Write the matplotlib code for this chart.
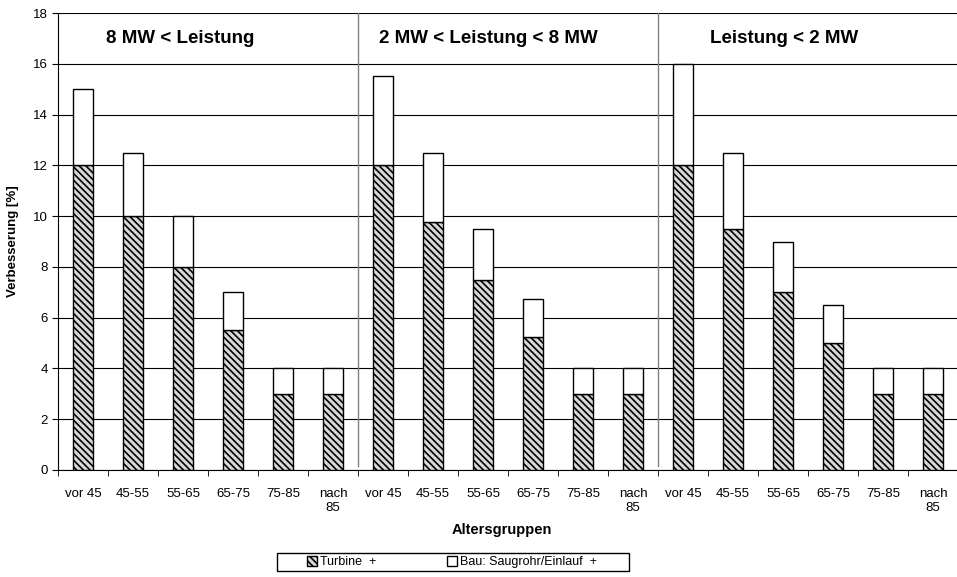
import matplotlib
matplotlib.use("Agg")
import matplotlib.pyplot as plt
import numpy as np
from matplotlib.patches import Patch, Rectangle

plt.rcParams['font.family'] = ['Liberation Sans', 'DejaVu Sans']
plt.rcParams['hatch.linewidth'] = 1.2

age_groups = ["vor 45", "45-55", "55-65", "65-75", "75-85", "nach\n85"]
power_groups = ["8 MW < Leistung", "2 MW < Leistung < 8 MW", "Leistung < 2 MW"]
turbine = [12, 10, 8, 5.5, 3, 3,
           12, 9.75, 7.5, 5.25, 3, 3,
           12, 9.5, 7, 5, 3, 3]
totals = [15, 12.5, 10, 7, 4, 4,
          15.5, 12.5, 9.5, 6.75, 4, 4,
          16, 12.5, 9, 6.5, 4, 4]
bau = [t - b for t, b in zip(totals, turbine)]
labels = age_groups * 3

W, H = 957, 577
fig = plt.figure(figsize=(W/100, H/100), dpi=100)
ax = fig.add_axes([58/W, (H-470)/H, 900/W, (470-13)/H])

x = np.arange(len(turbine))
ax.bar(x, turbine, width=0.4, facecolor='#d8d8d8', edgecolor='black', hatch='\\\\\\\\\\', linewidth=1.0, zorder=3)
ax.bar(x, bau, bottom=turbine, width=0.4, facecolor='white', edgecolor='black', linewidth=1.0, zorder=3)

ax.set_xlim(-0.5, len(turbine) - 0.5)
ax.set_ylim(0, 18)
ax.set_yticks(np.arange(0, 19, 2))
ax.yaxis.grid(True, color='black', linewidth=0.8, zorder=0)
ax.set_axisbelow(True)

ax.set_xticks(x)
ax.set_xticklabels(labels, fontsize=9.5, linespacing=1.2)
ax.set_xticks(np.arange(-0.5, len(turbine), 1), minor=True)
ax.tick_params(axis='x', which='major', length=0, pad=13)
ax.tick_params(axis='x', which='minor', length=4, direction='out')
ax.tick_params(axis='y', labelsize=9.5, length=4)

for s in ['top', 'right']:
    ax.spines[s].set_visible(False)
ax.spines['left'].set_color('black')
ax.spines['bottom'].set_color('black')

for sep in [5.5, 11.5]:
    ax.plot([sep, sep], [0.15, 18], color='#808080', linewidth=1.0, zorder=2)

title_x = [2.5 - 0.55, 8.5 - 0.4, 14.5 - 0.48]
for tx, name in zip(title_x, power_groups):
    ax.text(tx, 17, name, ha='center', va='center', fontsize=13.5, fontweight='bold')

ax.set_ylabel("Verbesserung [%]", fontsize=9.5, fontweight='bold', labelpad=10)
ax.set_xlabel("Altersgruppen", fontsize=10.5, fontweight='bold')
ax.xaxis.set_label_coords(0.5 - 6/900, (470 - 523) / 457)

# legend frame drawn separately to match the wide box
fig.patches.append(Rectangle((277/W, (H-571)/H), 352/W, 18/H, transform=fig.transFigure,
                             facecolor='white', edgecolor='black', linewidth=1.0))
handles = [Patch(facecolor='#d8d8d8', edgecolor='black', hatch='\\\\\\\\\\', label='Turbine  +'),
           Patch(facecolor='white', edgecolor='black', label='Bau: Saugrohr/Einlauf  +')]
fig.legend(handles=handles, loc='center', bbox_to_anchor=(452/W, (H-562)/H), ncol=2,
           fontsize=9, frameon=False, columnspacing=5.6,
           handlelength=0.8, handleheight=0.8, handletextpad=0.3, borderpad=0.0)

fig.savefig("out.png", dpi=100)
